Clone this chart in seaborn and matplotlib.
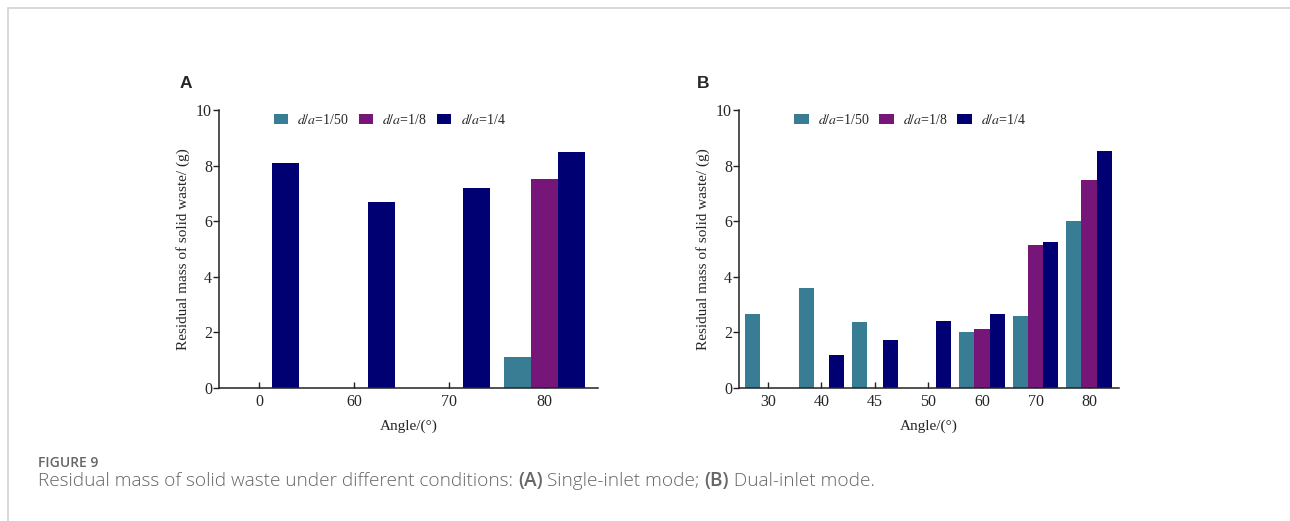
import numpy as np
import pandas as pd
import matplotlib
matplotlib.use("Agg")
import matplotlib.pyplot as plt
from matplotlib.patches import Rectangle
import seaborn as sns

# ---------------- data ----------------
series = ["$d/a$=1/50", "$d/a$=1/8", "$d/a$=1/4"]
colors = ["#387D94", "#751678", "#000073"]

angles_a = ["0", "60", "70", "80"]
a_1_50 = [0, 0, 0, 1.12]
a_1_8 = [0, 0, 0, 7.51]
a_1_4 = [8.08, 6.68, 7.21, 8.50]

angles_b = ["30", "40", "45", "50", "60", "70", "80"]
b_1_50 = [2.67, 3.58, 2.36, 0, 2.03, 2.59, 6.00]
b_1_8 = [0, 0, 0, 0, 2.11, 5.14, 7.50]
b_1_4 = [0, 1.20, 1.74, 2.40, 2.65, 5.24, 8.53]

yticks = [0, 2, 4, 6, 8, 10]
xlabel = "Angle/(°)"
ylabel = "Residual mass of solid waste/ (g)"


def long_df(angles, vals):
    rows = []
    for s, v in zip(series, vals):
        for a, x in zip(angles, v):
            rows.append({"angle": a, "series": s, "value": x})
    return pd.DataFrame(rows)


df_a = long_df(angles_a, [a_1_50, a_1_8, a_1_4])
df_b = long_df(angles_b, [b_1_50, b_1_8, b_1_4])

sns.set_theme(style="white")
plt.rcParams["font.family"] = ["Liberation Serif", "DejaVu Serif"]
plt.rcParams["mathtext.fontset"] = "stix"

fig = plt.figure(figsize=(12.9, 5.21), dpi=100)

# light frame
fig.add_artist(Rectangle((8 / 1290, -0.1), 1.2, 1 - 8 / 521 + 0.1,
                         transform=fig.transFigure, fill=False,
                         edgecolor="#d2d2d2", linewidth=1.2))

axA = fig.add_axes([219 / 1290, 1 - 388 / 521, 379 / 1290, 278 / 521])
axB = fig.add_axes([739 / 1290, 1 - 388 / 521, 380 / 1290, 278 / 521])

for ax, df, angles, xlim_l, xlim_r in [
        (axA, df_a, angles_a, -0.42, 3.56),
        (axB, df_b, angles_b, -0.54, 6.56)]:
    sns.barplot(data=df, x="angle", y="value", hue="series", order=angles,
                hue_order=series, palette=colors, width=0.85, ax=ax,
                saturation=1, linewidth=0, legend=True)
    ax.set_xlim(xlim_l, xlim_r)
    ax.set_ylim(0, 10)
    ax.set_yticks(yticks)
    ax.set_yticklabels([str(t) for t in yticks])
    ax.set_xlabel(xlabel, fontsize=11, labelpad=7)
    ax.set_ylabel(ylabel, fontsize=11, labelpad=4)
    for s in ["top", "right"]:
        ax.spines[s].set_visible(False)
    for s in ["left", "bottom"]:
        ax.spines[s].set_color("#222222")
        ax.spines[s].set_linewidth(1.1)
    ax.tick_params(axis="y", direction="out", length=4, width=1, left=True,
                   labelsize=11.5, pad=1, color="#222222")
    ax.tick_params(axis="x", direction="in", length=4, width=1, bottom=True,
                   labelsize=11.5, pad=4, color="#222222")
    handles, labels = ax.get_legend_handles_labels()
    ax.legend(handles, labels, loc="upper left", bbox_to_anchor=(0.13, 1.01),
              ncol=3, frameon=False, fontsize=10, handlelength=1.05,
              handleheight=0.75, handletextpad=0.65, columnspacing=0.7,
              borderaxespad=0)

fig.text(180 / 1290, 1 - 84 / 521, "A", fontsize=12.5, fontweight="bold",
         family="Liberation Sans", va="center", ha="left")
fig.text(697 / 1290, 1 - 84 / 521, "B", fontsize=12.5, fontweight="bold",
         family="Liberation Sans", va="center", ha="left")

# caption
cap_color = "#666666"
fig.text(38 / 1290, 1 - 463 / 521, "FIGURE 9", fontsize=10, family="Open Sans",
         fontweight="semibold", color=cap_color, va="center", ha="left")

pieces = [
    ("Residual mass of solid waste under different conditions: ", "light"),
    ("(A)", "semibold"),
    (" Single-inlet mode; ", "light"),
    ("(B)", "semibold"),
    (" Dual-inlet mode.", "light"),
]
fig.canvas.draw()
renderer = fig.canvas.get_renderer()
x = 38 / 1290
y = 1 - 481 / 521
for txt, w in pieces:
    t = fig.text(x, y, txt, fontsize=13.7, family="Open Sans", fontweight=w,
                 color=cap_color, va="center", ha="left")
    bb = t.get_window_extent(renderer=renderer)
    x += bb.width / fig.bbox.width

fig.savefig("out.png", dpi=100)
